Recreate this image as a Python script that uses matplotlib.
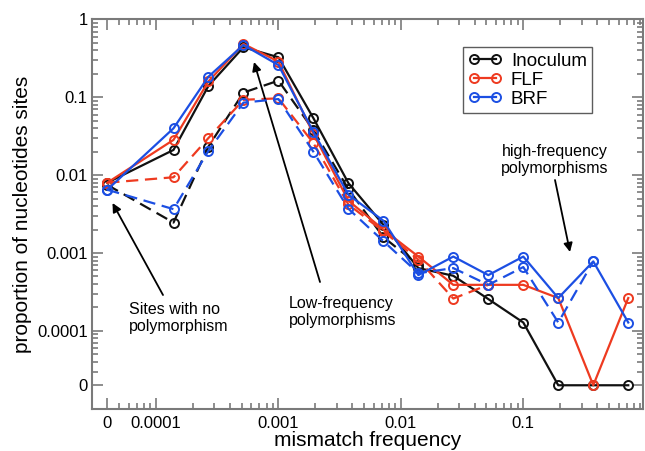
import matplotlib
matplotlib.use("Agg")
import matplotlib.pyplot as plt
import numpy as np
from matplotlib.lines import Line2D

plt.rcParams['font.family'] = ['Liberation Sans', 'DejaVu Sans']

# mismatch frequency bins (0 = sites with no polymorphism)
freq = [0, 0.000139, 0.000268, 0.000518, 0.001, 0.00193, 0.00373, 0.0072,
        0.0139, 0.0268, 0.0518, 0.1, 0.193, 0.373, 0.72]

inoc_solid = [0.0080, 0.0211, 0.140, 0.44, 0.327, 0.054, 0.0079, 0.0023,
              0.00064, 0.00051, 0.000256, 0.000128, 0, 0, 0]
inoc_dash = [0.0075, 0.00246, 0.0233, 0.115, 0.164, 0.038, 0.0066, 0.0016,
             0.0007, None, None, None, None, None, None]
flf_solid = [0.0080, 0.0284, 0.160, 0.485, 0.288, 0.034, 0.0047, 0.0020,
             0.0009, 0.00039, 0.00039, 0.00039, 0.000264, 0, 0.000264]
flf_dash = [0.0080, 0.0094, 0.030, 0.093, 0.097, 0.0258, 0.0042, 0.0019,
            0.00082, 0.00026, 0.00039, None, None, None, None]
brf_solid = [0.0065, 0.040, 0.184, 0.47, 0.26, 0.036, 0.0056, 0.0026,
             0.00052, 0.0009, 0.00052, 0.0009, 0.000264, 0.00078, 0.000128]
brf_dash = [0.0065, 0.00366, 0.0205, 0.0855, 0.095, 0.020, 0.0037, 0.00142,
            0.00055, 0.00064, 0.00039, 0.00066, 0.000128, 0.00078, None]

XZERO = 4e-5   # where "0" sits on the log x axis
YZERO = 2e-5   # where "0" sits on the log y axis

BLACK = '#111111'
RED = '#ee3a20'
BLUE = '#1c4fe3'


def prep(xs, ys):
    px, py = [], []
    for x, y in zip(xs, ys):
        if y is None:
            continue
        px.append(XZERO if x == 0 else x)
        py.append(YZERO if y == 0 else y)
    return px, py


fig = plt.figure(figsize=(6.45, 4.51), dpi=100)
ax = fig.add_axes([0.1426, 0.0938, 0.8543, 0.863])
ax.set_xscale('log')
ax.set_yscale('log')

series = [
    (inoc_solid, BLACK, '-', 2),
    (inoc_dash, BLACK, '--', 2),
    (flf_solid, RED, '-', 3),
    (flf_dash, RED, '--', 3),
    (brf_solid, BLUE, '-', 4),
    (brf_dash, BLUE, '--', 4),
]
for ys, c, ls, z in series:
    px, py = prep(freq, ys)
    line, = ax.plot(px, py, color=c, ls=ls, lw=1.6, marker='o', ms=6.5,
                    mfc='none', mec=c, mew=1.4, zorder=z)
    if ls == '--':
        line.set_dashes((5.5, 3))

ax.set_xlim(3e-5, 0.95)
ax.set_ylim(1e-5, 1)

ax.set_xticks([XZERO, 1e-4, 1e-3, 1e-2, 1e-1])
ax.set_xticklabels(['0', '0.0001', '0.001', '0.01', '0.1'])
xminor = [m * 1e-5 for m in range(5, 10)]
for d in [1e-4, 1e-3, 1e-2, 1e-1]:
    xminor += [m * d for m in range(2, 10)]
ax.set_xticks(xminor, minor=True)
ax.xaxis.set_minor_formatter(plt.NullFormatter())

ax.set_yticks([YZERO, 1e-4, 1e-3, 1e-2, 1e-1, 1])
ax.set_yticklabels(['0', '0.0001', '0.001', '0.01', '0.1', '1'])
yminor = [m * 1e-5 for m in range(3, 10)]
for d in [1e-4, 1e-3, 1e-2, 1e-1]:
    yminor += [m * d for m in range(2, 10)]
ax.set_yticks(yminor, minor=True)
ax.yaxis.set_minor_formatter(plt.NullFormatter())

for s in ax.spines.values():
    s.set_color('#7a7a7a')
    s.set_linewidth(1.5)
ax.tick_params(which='both', direction='in', top=True, right=True,
               color='#7a7a7a', width=1.2, labelsize=12)
ax.tick_params(which='major', length=8)
ax.tick_params(which='minor', length=4)
ax.tick_params(axis='x', pad=5)
ax.tick_params(axis='y', pad=3)

ax.set_xlabel('mismatch frequency', fontsize=15, labelpad=0)
ax.set_ylabel('proportion of nucleotides sites', fontsize=15, labelpad=4)

handles = [
    Line2D([], [], color=BLACK, lw=1.6, marker='o', ms=6.5, mfc='none', mew=1.4),
    Line2D([], [], color=RED, lw=1.6, marker='o', ms=6.5, mfc='none', mew=1.4),
    Line2D([], [], color=BLUE, lw=1.6, marker='o', ms=6.5, mfc='none', mew=1.4),
]
leg = fig.legend(handles, ['Inoculum', 'FLF', 'BRF'], loc='upper left',
                 bbox_to_anchor=(463 / 645, 1 - 47 / 451),
                 bbox_transform=fig.transFigure, borderaxespad=0,
                 numpoints=2, fontsize=13.5, frameon=True, fancybox=False,
                 handlelength=1.75, handletextpad=0.5, labelspacing=0.1,
                 borderpad=0.3)
leg.get_frame().set_edgecolor('#333333')
leg.get_frame().set_linewidth(1.0)


def fx(px):
    return px / 645


def fy(py):
    return 1 - py / 451


arrow = dict(arrowstyle='-|>', color='black', lw=1.3, mutation_scale=13,
             shrinkA=0, shrinkB=0)
fig.text(fx(129), fy(302), 'Sites with no\npolymorphism', fontsize=11.5,
         ha='left', va='top')
ax.annotate('', xy=(fx(112.5), fy(203)), xytext=(fx(163), fy(295)),
            xycoords='figure fraction', textcoords='figure fraction',
            arrowprops=arrow)

fig.text(fx(289), fy(296), 'Low-frequency\npolymorphisms', fontsize=11.5,
         ha='left', va='top')
ax.annotate('', xy=(fx(254), fy(62)), xytext=(fx(320), fy(282)),
            xycoords='figure fraction', textcoords='figure fraction',
            arrowprops=arrow)

fig.text(fx(554.5), fy(144), 'high-frequency\npolymorphisms', fontsize=11.5,
         ha='center', va='top', multialignment='center')
ax.annotate('', xy=(fx(570), fy(252)), xytext=(fx(555), fy(180)),
            xycoords='figure fraction', textcoords='figure fraction',
            arrowprops=arrow)

fig.savefig('out.png', dpi=100)
